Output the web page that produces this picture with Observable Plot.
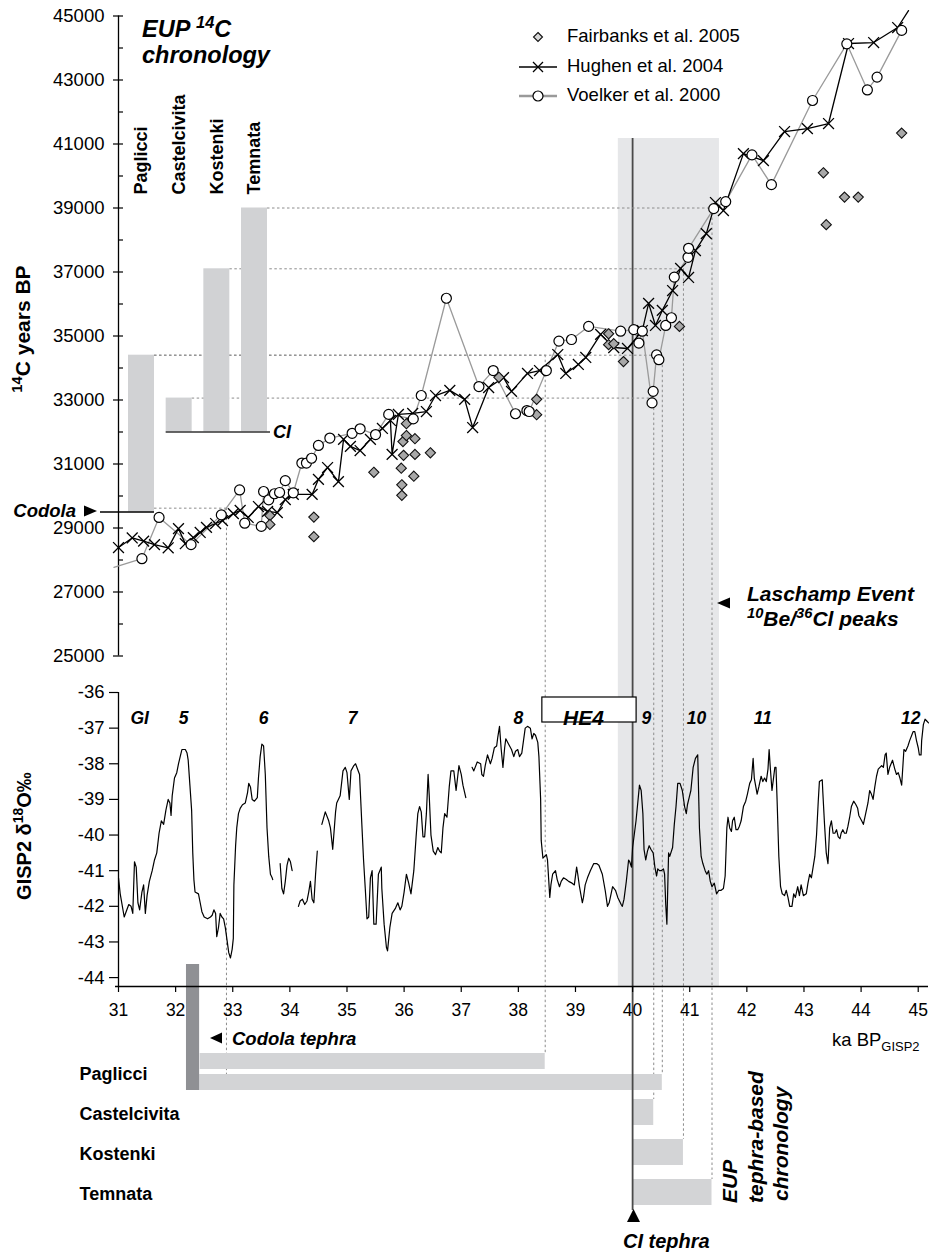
<!DOCTYPE html>
<html><head><meta charset="utf-8">
<script src="https://cdn.jsdelivr.net/npm/d3@7"></script>
<script src="https://cdn.jsdelivr.net/npm/@observablehq/plot@0.6"></script>
<style>
body{margin:0;background:#fff;color:#000}
#chart{position:relative;width:937px;height:1254px;font-family:"Liberation Sans",Arial,sans-serif}
#chart>svg{position:absolute;left:0;top:0}
</style></head><body><div id="chart"></div>
<script>
// ---------------- DATA ----------------
// 14C vs calendar age (ka BP GISP2, 14C yr BP)
const fairbanks = [[33.65,29390],[33.65,29110],[34.42,29340],[34.42,28730],[35.47,30740],[35.96,30020],[35.96,30350],[35.95,30870],[35.99,31270],[35.98,31700],[36.04,31890],[36.04,32260],[36.19,31790],[36.19,31300],[36.17,30620],[36.46,31350],[37.66,33710],[38.32,33020],[38.32,32540],[39.58,35070],[39.58,34730],[39.67,34760],[39.84,34200],[40.82,35300],[43.34,40100],[43.39,38480],[43.71,39340],[43.95,39340],[44.71,41340]];
const hughen = [[31.00,28390],[31.24,28690],[31.44,28590],[31.63,28480],[31.87,28380],[32.05,28980],[32.17,28510],[32.31,28700],[32.43,28860],[32.54,29020],[32.70,29140],[32.82,29230],[33.01,29450],[33.13,29550],[33.27,29330],[33.45,29670],[33.61,29520],[33.78,29480],[33.92,29890],[34.06,30050],[34.39,30050],[34.50,30520],[34.66,30890],[34.85,30450],[34.94,31770],[35.06,31550],[35.23,31420],[35.41,31770],[35.62,32110],[35.76,32360],[35.79,31300],[35.90,32550],[36.15,32580],[36.39,32640],[36.55,33140],[36.80,33300],[37.06,33020],[37.20,32140],[37.48,33390],[37.74,33700],[37.88,33270],[38.16,33830],[38.37,33920],[38.69,34420],[38.83,33830],[39.05,34110],[39.18,34330],[39.44,35050],[39.67,34640],[39.91,34610],[40.17,35170],[40.28,36020],[40.40,35330],[40.52,35800],[40.70,36420],[40.84,37110],[40.98,36830],[41.10,37670],[41.29,38200],[41.45,39170],[41.59,38920],[41.94,40700],[42.29,40480],[42.66,41390],[43.06,41480],[43.43,41640],[43.78,44140],[44.22,44170],[44.64,44640],[44.83,45170]];
const voelker = [[30.92,27770],[31.41,28040],[31.71,29330],[32.27,28480],[32.80,29410],[33.12,30190],[33.21,29150],[33.50,29050],[33.54,30140],[33.63,29880],[33.73,30070],[33.82,30110],[33.92,30480],[34.06,30100],[34.21,31030],[34.29,31030],[34.38,31180],[34.50,31580],[34.70,31810],[35.09,31960],[35.23,32100],[35.50,31920],[35.73,32550],[36.16,32410],[36.30,33140],[36.74,36180],[37.31,33420],[37.56,33920],[37.95,32570],[38.15,32670],[38.19,32640],[38.49,33920],[38.71,34840],[38.93,34890],[39.23,35300],[39.79,35150],[40.02,35200],[40.11,34780],[40.17,35150],[40.34,32910],[40.36,33270],[40.42,34410],[40.46,34260],[40.58,35330],[40.68,35570],[40.73,36840],[40.97,37460],[40.98,37740],[41.42,38980],[41.63,39200],[42.09,40660],[42.43,39730],[43.15,42360],[43.75,44130],[44.11,42690],[44.28,43090],[44.71,44550]];

// GISP2 d18O (ka, permil); null = gap in record
const gisp2 = [[31.00,-41.2],[31.03,-41.65],[31.10,-42.3],[31.18,-41.95],[31.22,-42.0],[31.25,-42.2],[31.28,-40.75],[31.31,-40.9],[31.34,-41.9],[31.37,-42.1],[31.41,-41.6],[31.44,-41.4],[31.47,-42.2],[31.50,-41.7],[31.54,-41.3],[31.59,-41.0],[31.63,-40.7],[31.67,-40.5],[31.71,-39.95],[31.75,-39.6],[31.79,-39.7],[31.83,-39.3],[31.87,-39.0],[31.90,-39.1],[31.92,-39.45],[31.94,-38.9],[31.98,-38.4],[32.02,-38.25],[32.05,-38.0],[32.08,-37.8],[32.11,-37.6],[32.17,-37.6],[32.20,-37.7],[32.22,-37.9],[32.25,-38.6],[32.28,-39.3],[32.30,-40.5],[32.32,-41.25],[32.34,-41.6],[32.40,-41.65],[32.43,-41.9],[32.46,-42.15],[32.50,-42.3],[32.56,-42.35],[32.61,-42.3],[32.64,-42.25],[32.67,-42.1],[32.70,-42.2],[32.72,-42.85],[32.75,-42.6],[32.78,-42.2],[32.81,-42.3],[32.84,-42.35],[32.87,-42.6],[32.90,-42.95],[32.93,-43.3],[32.96,-43.45],[32.99,-43.2],[33.01,-42.9],[33.02,-41.4],[33.05,-40.3],[33.07,-39.8],[33.10,-39.4],[33.13,-39.25],[33.17,-39.15],[33.22,-39.1],[33.26,-38.8],[33.28,-38.55],[33.31,-38.65],[33.34,-39.0],[33.38,-39.05],[33.43,-38.95],[33.45,-38.4],[33.48,-37.8],[33.51,-37.45],[33.54,-37.5],[33.57,-38.3],[33.60,-39.8],[33.63,-40.6],[33.66,-41.1],[33.69,-41.2],[33.70,-41.25],
[33.76,null],
[33.83,-40.8],[33.86,-41.5],[33.89,-41.65],[33.92,-41.3],[33.95,-40.85],[33.98,-40.65],[34.01,-40.75],[34.04,-41.0],
[34.10,null],
[34.15,-42.0],[34.18,-41.85],[34.22,-41.8],[34.26,-41.95],[34.30,-41.85],[34.33,-41.6],[34.36,-41.3],[34.39,-41.8],[34.42,-41.9],[34.45,-41.1],[34.48,-40.45],
[34.52,null],
[34.56,-39.7],[34.62,-39.35],[34.68,-39.6],[34.71,-39.8],[34.75,-40.4],[34.80,-39.35],[34.82,-39.1],[34.88,-38.9],[34.93,-38.2],[34.97,-38.1],[35.00,-38.25],[35.04,-39.0],[35.07,-38.2],[35.12,-38.05],[35.15,-38.0],[35.22,-38.3],[35.26,-39.7],[35.29,-40.7],[35.32,-41.5],[35.35,-42.35],[35.38,-42.3],[35.41,-41.2],[35.44,-41.0],[35.47,-42.5],[35.51,-42.5],[35.55,-41.1],[35.60,-40.9],[35.61,-41.5],[35.65,-42.5],[35.69,-43.15],[35.71,-43.25],[35.75,-42.6],[35.79,-42.2],[35.85,-42.05],[35.89,-41.9],[35.93,-42.1],[35.96,-42.0],[36.00,-41.6],[36.04,-41.1],[36.08,-41.35],[36.12,-41.65],[36.17,-41.0],[36.21,-40.05],[36.24,-39.4],[36.27,-39.2],[36.30,-39.35],[36.33,-40.05],[36.36,-40.05],[36.39,-39.4],[36.42,-38.3],[36.44,-38.9],[36.47,-40.0],[36.51,-40.45],[36.55,-40.55],[36.59,-40.35],[36.62,-40.45],[36.65,-40.5],[36.68,-39.8],[36.71,-39.4],[36.75,-39.5],[36.79,-38.65],[36.82,-38.2],[36.87,-38.2],[36.91,-38.75],[36.96,-38.05],[37.00,-38.3],[37.03,-38.6],[37.08,-38.95],
[37.13,null],
[37.19,-38.1],[37.22,-38.2],[37.28,-37.95],[37.34,-38.0],[37.36,-38.3],[37.39,-38.35],[37.42,-38.05],[37.46,-37.75],[37.51,-38.0],[37.54,-37.85],[37.58,-37.55],[37.62,-37.5],[37.64,-37.25],[37.67,-36.95],[37.70,-37.6],[37.73,-38.1],[37.76,-37.55],[37.78,-37.3],[37.83,-37.45],[37.88,-37.6],[37.92,-37.8],[37.95,-37.65],[37.99,-37.6],[38.02,-37.8],[38.06,-37.7],[38.09,-37.35],[38.12,-37.0],[38.16,-36.95],[38.21,-37.0],[38.24,-37.3],[38.27,-37.15],[38.30,-37.2],[38.34,-37.4],[38.36,-37.8],[38.39,-39.0],[38.40,-40.15],[38.43,-40.65],[38.46,-40.6],[38.49,-40.55],[38.51,-40.7],[38.55,-41.75],[38.57,-41.4],[38.60,-41.1],[38.65,-41.0],[38.68,-41.25],[38.72,-41.45],[38.75,-41.3],[38.79,-41.2],[38.84,-41.25],[38.88,-41.3],[38.94,-41.35],[38.98,-41.4],[39.02,-40.9],[39.04,-41.1],[39.07,-41.45],[39.12,-41.9],[39.14,-41.75],[39.17,-41.4],[39.21,-41.2],[39.26,-41.0],[39.32,-40.8],[39.37,-40.8],[39.41,-40.85],[39.47,-41.1],[39.52,-41.55],[39.56,-42.0],[39.59,-41.9],[39.65,-41.45],[39.70,-41.55],[39.74,-41.75],[39.80,-41.95],[39.82,-42.0],[39.85,-41.8],[39.89,-41.3],[39.93,-40.7],[39.95,-40.75],[39.98,-40.9],[40.00,-40.35],[40.06,-39.6],[40.09,-39.1],[40.12,-38.6],[40.15,-38.75],[40.18,-39.4],[40.20,-40.4],[40.23,-40.7],[40.26,-40.45],[40.29,-40.3],[40.32,-40.4],[40.36,-40.5],[40.39,-40.9],[40.42,-41.15],[40.44,-40.95],[40.47,-41.0],[40.50,-41.0],[40.54,-40.95],[40.56,-41.1],[40.58,-41.95],[40.60,-42.5],[40.63,-40.5],[40.65,-40.6],[40.70,-40.35],[40.73,-39.7],[40.76,-39.2],[40.79,-38.55],[40.83,-38.55],[40.87,-38.75],[40.91,-39.2],[40.94,-39.4],[40.96,-39.15],[40.99,-38.95],[41.02,-38.75],[41.06,-38.1],[41.10,-37.85],[41.14,-37.75],[41.17,-39.8],[41.20,-40.6],[41.23,-40.8],[41.27,-41.0],[41.30,-41.1],[41.33,-41.0],[41.36,-41.3],[41.39,-41.45],[41.43,-41.35],[41.47,-41.65],[41.51,-41.55],[41.55,-41.55],[41.59,-41.5],[41.62,-41.15],[41.65,-39.8],[41.67,-39.5],[41.70,-39.8],[41.73,-39.9],[41.75,-39.6],[41.78,-39.5],[41.81,-39.85],[41.84,-39.85],[41.87,-39.75],[41.90,-39.6],[41.94,-39.2],[41.98,-39.05],[42.01,-38.85],[42.05,-38.55],[42.08,-38.45],[42.11,-37.85],[42.13,-38.4],[42.18,-38.85],[42.21,-38.65],[42.25,-38.35],[42.28,-38.5],[42.31,-38.4],[42.34,-38.5],[42.37,-38.15],[42.39,-37.6],[42.41,-38.1],[42.44,-38.75],[42.49,-38.1],[42.51,-38.1],[42.53,-39.05],[42.56,-40.6],[42.59,-41.45],[42.62,-41.65],[42.66,-41.7],[42.69,-41.55],[42.72,-41.75],[42.75,-42.0],[42.79,-42.0],[42.82,-41.65],[42.85,-41.75],[42.89,-41.45],[42.92,-41.7],[42.95,-41.4],[42.99,-41.7],[43.04,-41.65],[43.07,-41.35],[43.10,-41.1],[43.13,-41.2],[43.16,-40.9],[43.19,-40.6],[43.22,-40.0],[43.25,-39.05],[43.27,-38.5],[43.32,-38.45],[43.33,-38.8],[43.36,-39.7],[43.39,-40.5],[43.42,-40.8],[43.45,-39.8],[43.48,-39.6],[43.51,-39.95],[43.54,-39.95],[43.57,-39.85],[43.60,-40.05],[43.63,-40.1],[43.65,-39.95],[43.68,-39.85],[43.71,-39.95],[43.74,-39.95],[43.77,-39.75],[43.80,-39.5],[43.83,-39.2],[43.87,-39.05],[43.91,-39.15],[43.94,-39.25],[43.96,-39.45],[44.01,-39.6],[44.04,-39.7],[44.08,-39.4],[44.12,-39.1],[44.15,-38.75],[44.18,-38.85],[44.21,-39.0],[44.24,-38.65],[44.27,-38.35],[44.30,-38.15],[44.33,-38.1],[44.36,-38.05],[44.39,-38.1],[44.42,-37.75],[44.44,-37.7],[44.47,-38.3],[44.50,-38.1],[44.55,-37.9],[44.59,-38.15],[44.62,-38.3],[44.65,-38.25],[44.68,-38.4],[44.71,-38.6],[44.75,-37.6],[44.78,-37.65],[44.82,-37.5],[44.85,-37.35],[44.91,-37.1],[44.94,-37.1],[44.97,-37.35],[45.00,-37.55],[45.02,-37.75],[45.05,-37.75],[45.06,-37.35],[45.09,-36.9],[45.12,-36.75],[45.15,-36.8],[45.18,-36.85]];

// EUP 14C chronology (inset bars)
const c14Sites = ["Paglicci","Castelcivita","Kostenki","Temnata"];
const c14From = [29500, 32000, 32000, 32000];
const c14To = [34400, 33060, 37100, 39000];

// tephra-based chronology bars (ka)
const tephraSite = ["Paglicci","Paglicci","Castelcivita","Kostenki","Temnata"];
const tephraPart = ["upper","lower","single","single","single"];
const tephraStart = [32.43, 32.42, 40.0, 40.0, 40.0];
const tephraEnd = [38.47, 40.52, 40.37, 40.89, 41.39];
const tephraLink14C = [34400, 34400, 33060, 37100, 39000];

const codolaAge = 32.89, codola14C = 29620, codolaRange = [32.19, 32.42];
const ciTephraAge = 40.0, ci14C = 32000;
const laschamp = [39.75, 41.52];
const he4 = [38.42, 40.07];
const giLabel = ["GI","5","6","7","8","9","10","11","12"];
const giAge = [31.37, 32.14, 33.54, 35.10, 38.00, 40.24, 41.12, 42.28, 44.87];

const c14Ticks = d3.range(25000, 45001, 2000);
const c14Minor = d3.range(26000, 45000, 2000);
const d18Ticks = d3.range(-44, -35, 1);
const kaTicks = d3.range(31, 46, 1);

// ---------------- LAYOUT ----------------
const W = 937, H = 1254;
const FONT = "'Liberation Sans', Arial, Helvetica, sans-serif";
const xDomain = [31, 45.18], xRange = [118, 928];
const DOT = "#8c8c8c";
const style = {background: "transparent", fontFamily: FONT, fontSize: "18.5px", overflow: "visible", color: "#000"};
const xs = d3.scaleLinear(xDomain, xRange);
const insetBand = d3.scaleBand(c14Sites, [xs.invert(128), xs.invert(267)]).paddingInner(0.31).paddingOuter(0);
const bw = insetBand.bandwidth();

const c14Bars = c14Sites.map((s, i) => ({site: s, from: c14From[i], to: c14To[i]}));
const tephra = tephraSite.map((s, i) => ({site: s, part: tephraPart[i], start: tephraStart[i], end: tephraEnd[i], link: tephraLink14C[i]}));
const toXY = a => a.map(([x, y]) => ({x, y}));
const F = toXY(fairbanks), Hu = toXY(hughen), V = toXY(voelker), G = toXY(gisp2);
const gi = giLabel.map((l, i) => ({label: l, x: giAge[i]}));

// ---------------- 14C PANEL ----------------
const p1 = Plot.plot({
  width: W, height: H, marginTop: 15.5, marginBottom: H - 655.5, marginLeft: 118, marginRight: W - 928,
  style,
  x: {domain: xDomain, range: xRange, axis: null},
  y: {domain: [25000, 45000], range: [655.5, 15.5], label: null},
  marks: [
    Plot.ruleY(tephra, {y: "link", x1: d => insetBand(d.site) + bw, x2: "end", stroke: DOT, strokeDasharray: "2.5,2.5"}),
    Plot.ruleY([codola14C], {x1: insetBand("Paglicci") + bw, x2: codolaAge, stroke: DOT, strokeDasharray: "2.5,2.5"}),
    Plot.rect(c14Bars, {x1: d => insetBand(d.site), x2: d => insetBand(d.site) + bw, y1: "from", y2: "to", fill: "#d1d2d4"}),
    Plot.ruleY([ci14C], {x1: insetBand("Castelcivita"), x2: xs.invert(270), stroke: "#333", strokeWidth: 1.6}),
    Plot.ruleY([c14From[0]], {x1: xs.invert(100), x2: insetBand("Paglicci") + bw, stroke: "#000", strokeWidth: 1.3}),
    Plot.ruleX([xDomain[0]], {stroke: "#000", strokeWidth: 1.3}),
    Plot.axisY({ticks: c14Ticks, tickSize: 10, dx: 5, tickPadding: 9, tickFormat: d => String(d), fontSize: 18.5, strokeWidth: 1.2}),
    Plot.axisY({ticks: c14Minor, tickSize: 5, dx: 5, tickFormat: () => "", strokeWidth: 1.2}),
    Plot.line(V, {x: "x", y: "y", stroke: "#9a9a9a", strokeWidth: 1.3}),
    Plot.line(Hu, {x: "x", y: "y", stroke: "#000", strokeWidth: 1.3}),
    Plot.dot(Hu, {filter: d => d.y <= 45000, x: "x", y: "y", symbol: "times", r: 5, stroke: "#000", strokeWidth: 1.3}),
    Plot.dot(F, {x: "x", y: "y", symbol: "diamond2", r: 4.6, fill: "#a8a8a8", stroke: "#111", strokeWidth: 1.1}),
    Plot.dot(V, {filter: d => d.x >= 31, x: "x", y: "y", r: 5, fill: "#fff", stroke: "#000", strokeWidth: 1.2}),
    Plot.text(c14Sites, {x: d => insetBand(d) + bw / 2, frameAnchor: "top", dy: 178.5, text: d => d, rotate: -90, textAnchor: "start", lineAnchor: "middle", fontWeight: "bold", fontSize: 18})
  ]
});

// ---------------- d18O PANEL ----------------
const p2 = Plot.plot({
  width: W, height: H, marginTop: 692, marginBottom: H - 986, marginLeft: 118, marginRight: W - 928,
  style,
  x: {domain: xDomain, range: xRange, label: null},
  y: {domain: [-44.25, -36], label: null},
  marks: [
    Plot.rect([he4], {x1: d => d[0], x2: d => d[1], insetTop: 5, insetBottom: 264, fill: "#fff", stroke: "#000", strokeWidth: 1.2}),
    Plot.text([he4], {x: d => (d[0] + d[1]) / 2, frameAnchor: "top", dy: 18, dx: -6, text: () => "HE4", fontWeight: "bold", fontStyle: "italic", fontSize: 21}),
    Plot.text(gi, {x: "x", text: "label", frameAnchor: "top", dy: 19, fontWeight: "bold", fontStyle: "italic", fontSize: 17.5}),
    Plot.line(G, {x: "x", y: "y", stroke: "#000", strokeWidth: 1.2}),
    Plot.ruleX([xDomain[0]], {stroke: "#000", strokeWidth: 1.3}),
    Plot.ruleY([-44.25], {stroke: "#000", strokeWidth: 1.3, insetLeft: -3}),
    Plot.axisY({ticks: d18Ticks, tickSize: 9, tickPadding: 5, tickFormat: d => String(d), fontSize: 18.5, strokeWidth: 1.2}),
    Plot.axisX({ticks: kaTicks, tickSize: 6, tickPadding: 11, tickFormat: d => String(d), fontSize: 17.5, strokeWidth: 1.2, anchor: "bottom", label: null})
  ]
});

// ---------------- tephra-based bars ----------------
const rowSites = ["Paglicci","Castelcivita","Kostenki","Temnata"];
const p3 = Plot.plot({
  width: W, height: H, marginTop: 1040, marginBottom: 30, marginLeft: 79, marginRight: W - 928,
  style,
  x: {domain: xDomain, range: xRange, axis: null},
  y: {type: "band", domain: rowSites, range: [1059, 1205], paddingInner: 0.35, paddingOuter: 0, align: 0.5, round: false, axis: null},
  marks: [
    Plot.barX(tephra.filter(d => d.part === "upper"), {x1: "start", x2: "end", y: "site", insetTop: -6, insetBottom: 16, fill: "#d3d4d6"}),
    Plot.barX(tephra.filter(d => d.part === "lower"), {x1: "start", x2: "end", y: "site", insetTop: 15, insetBottom: -5, fill: "#d3d4d6"}),
    Plot.barX(tephra.filter(d => d.part === "single"), {x1: "start", x2: "end", y: "site", fill: "#d3d4d6"}),
    Plot.barX([codolaRange], {x1: d => d[0], x2: d => d[1], y: () => "Paglicci", insetTop: -95, insetBottom: -5, fill: "#8f9094"}),
    Plot.text(rowSites, {y: d => d, text: d => d, frameAnchor: "left", textAnchor: "start", dy: 2, fontWeight: "bold", fontSize: 18})
  ]
});

// ---------------- connectors / background (using the plots' scales) ----------------
const y14 = p1.scale("y"), yRow = p3.scale("y");
const barTop = d => yRow.apply(d.site) + (d.part === "upper" ? -6 : d.part === "lower" ? 15 : 0);
const vconn = tephra.map(d => ({x: d.end, top: y14.apply(d.link), bottom: barTop(d)}));
vconn.push({x: codolaAge, top: y14.apply(codola14C), bottom: barTop(tephra[1])});

const pBg = Plot.plot({
  width: W, height: H, margin: 0, style,
  x: {domain: xDomain, range: xRange, axis: null},
  y: {type: "identity", axis: null},
  marks: [
    Plot.rect([laschamp], {x1: d => d[0], x2: d => d[1], y1: 138, y2: 986, fill: "#e6e7e9"}),
    Plot.ruleX(vconn, {x: "x", y1: "top", y2: "bottom", stroke: DOT, strokeDasharray: "2.5,2.5"})
  ]
});
const pCi = Plot.plot({
  width: W, height: H, margin: 0, style,
  x: {domain: xDomain, range: xRange, axis: null},
  y: {type: "identity", axis: null},
  marks: [Plot.ruleX([ciTephraAge], {y1: 138, y2: 1210, stroke: "#4a4a4a", strokeWidth: 1.8})]
});

const chart = document.getElementById("chart");
chart.append(pBg, p3, pCi, p2, p1);

// ---------------- annotations ----------------
const ov = d3.select(chart).append("svg").attr("width", W).attr("height", H)
  .style("font-family", FONT).style("overflow", "visible");
function txt(x, y, parts, o) {
  const t = ov.append("text").attr("font-size", o.size).attr("font-weight", o.bold ? "bold" : "normal")
    .attr("font-style", o.italic ? "italic" : "normal").attr("text-anchor", o.anchor || "start").attr("fill", "#000");
  if (o.rotate) t.attr("transform", `translate(${x},${y}) rotate(${o.rotate})`); else t.attr("x", x).attr("y", y);
  let shift = 0;
  for (const p of parts) {
    const s = typeof p === "string" ? {t: p} : p;
    const ts = t.append("tspan").text(s.t);
    const target = s.sup ? -0.4 * o.size : s.sub ? 0.25 * o.size : 0;
    if (target !== shift) { ts.attr("dy", target - shift); shift = target; }
    if (s.sup || s.sub) ts.attr("font-size", o.size * 0.7);
  }
}
const tri = pts => ov.append("polygon").attr("points", pts.map(p => p.join(",")).join(" ")).attr("fill", "#000");

// title
txt(142, 37, ["EUP ", {t: "14", sup: true}, "C"], {size: 23.5, bold: true, italic: true});
txt(142, 63, ["chronology"], {size: 23.5, bold: true, italic: true});
// legend
ov.append("polygon").attr("points", "538,32.5 542.5,37 538,41.5 533.5,37").attr("fill", "#d8d8d8").attr("stroke", "#111").attr("stroke-width", 1.1);
ov.append("line").attr("x1", 519).attr("x2", 557).attr("y1", 67).attr("y2", 67).attr("stroke", "#000").attr("stroke-width", 1.3);
ov.append("path").attr("d", "M533,62L543,72M533,72L543,62").attr("stroke", "#000").attr("stroke-width", 1.3);
ov.append("line").attr("x1", 519).attr("x2", 557).attr("y1", 96).attr("y2", 96).attr("stroke", "#9a9a9a").attr("stroke-width", 2.5);
ov.append("circle").attr("cx", 538).attr("cy", 96).attr("r", 5).attr("fill", "#fff").attr("stroke", "#000").attr("stroke-width", 1.2);
txt(567, 42, ["Fairbanks et al. 2005"], {size: 18.5});
txt(567, 72, ["Hughen et al. 2004"], {size: 18.5});
txt(567, 101, ["Voelker et al. 2000"], {size: 18.5});
// axis titles
txt(30, 329, [{t: "14", sup: true}, "C years BP"], {size: 21, bold: true, rotate: -90, anchor: "middle"});
txt(31, 836, ["GISP2 δ", {t: "18", sup: true}, "O‰"], {size: 20, bold: true, rotate: -90, anchor: "middle"});
// Codola / CI labels
txt(76, 517, ["Codola"], {size: 18.5, bold: true, italic: true, anchor: "end"});
tri([[84, 505.5], [84, 516.5], [97, 511]]);
txt(273, 438, ["CI"], {size: 18, bold: true, italic: true});
// Laschamp
tri([[717, 603], [730, 597.5], [730, 608.5]]);
txt(747, 601, ["Laschamp Event"], {size: 21, bold: true, italic: true});
txt(747, 626, [{t: "10", sup: true}, "Be/", {t: "36", sup: true}, "Cl peaks"], {size: 21, bold: true, italic: true});
// bottom annotations
tri([[210, 1038], [222, 1032.5], [222, 1043.5]]);
txt(232, 1045, ["Codola tephra"], {size: 18.5, bold: true, italic: true});
txt(832, 1046, ["ka BP", {t: "GISP2", sub: true}], {size: 18.5});
txt(737, 1203, ["EUP"], {size: 21, bold: true, italic: true, rotate: -90});
txt(763, 1203, ["tephra-based"], {size: 21, bold: true, italic: true, rotate: -90});
txt(788, 1201, ["chronology"], {size: 21, bold: true, italic: true, rotate: -90});
tri([[633.5, 1209], [627, 1222], [640, 1222]]);
txt(623, 1248, ["CI tephra"], {size: 20, bold: true, italic: true});
</script></body></html>
